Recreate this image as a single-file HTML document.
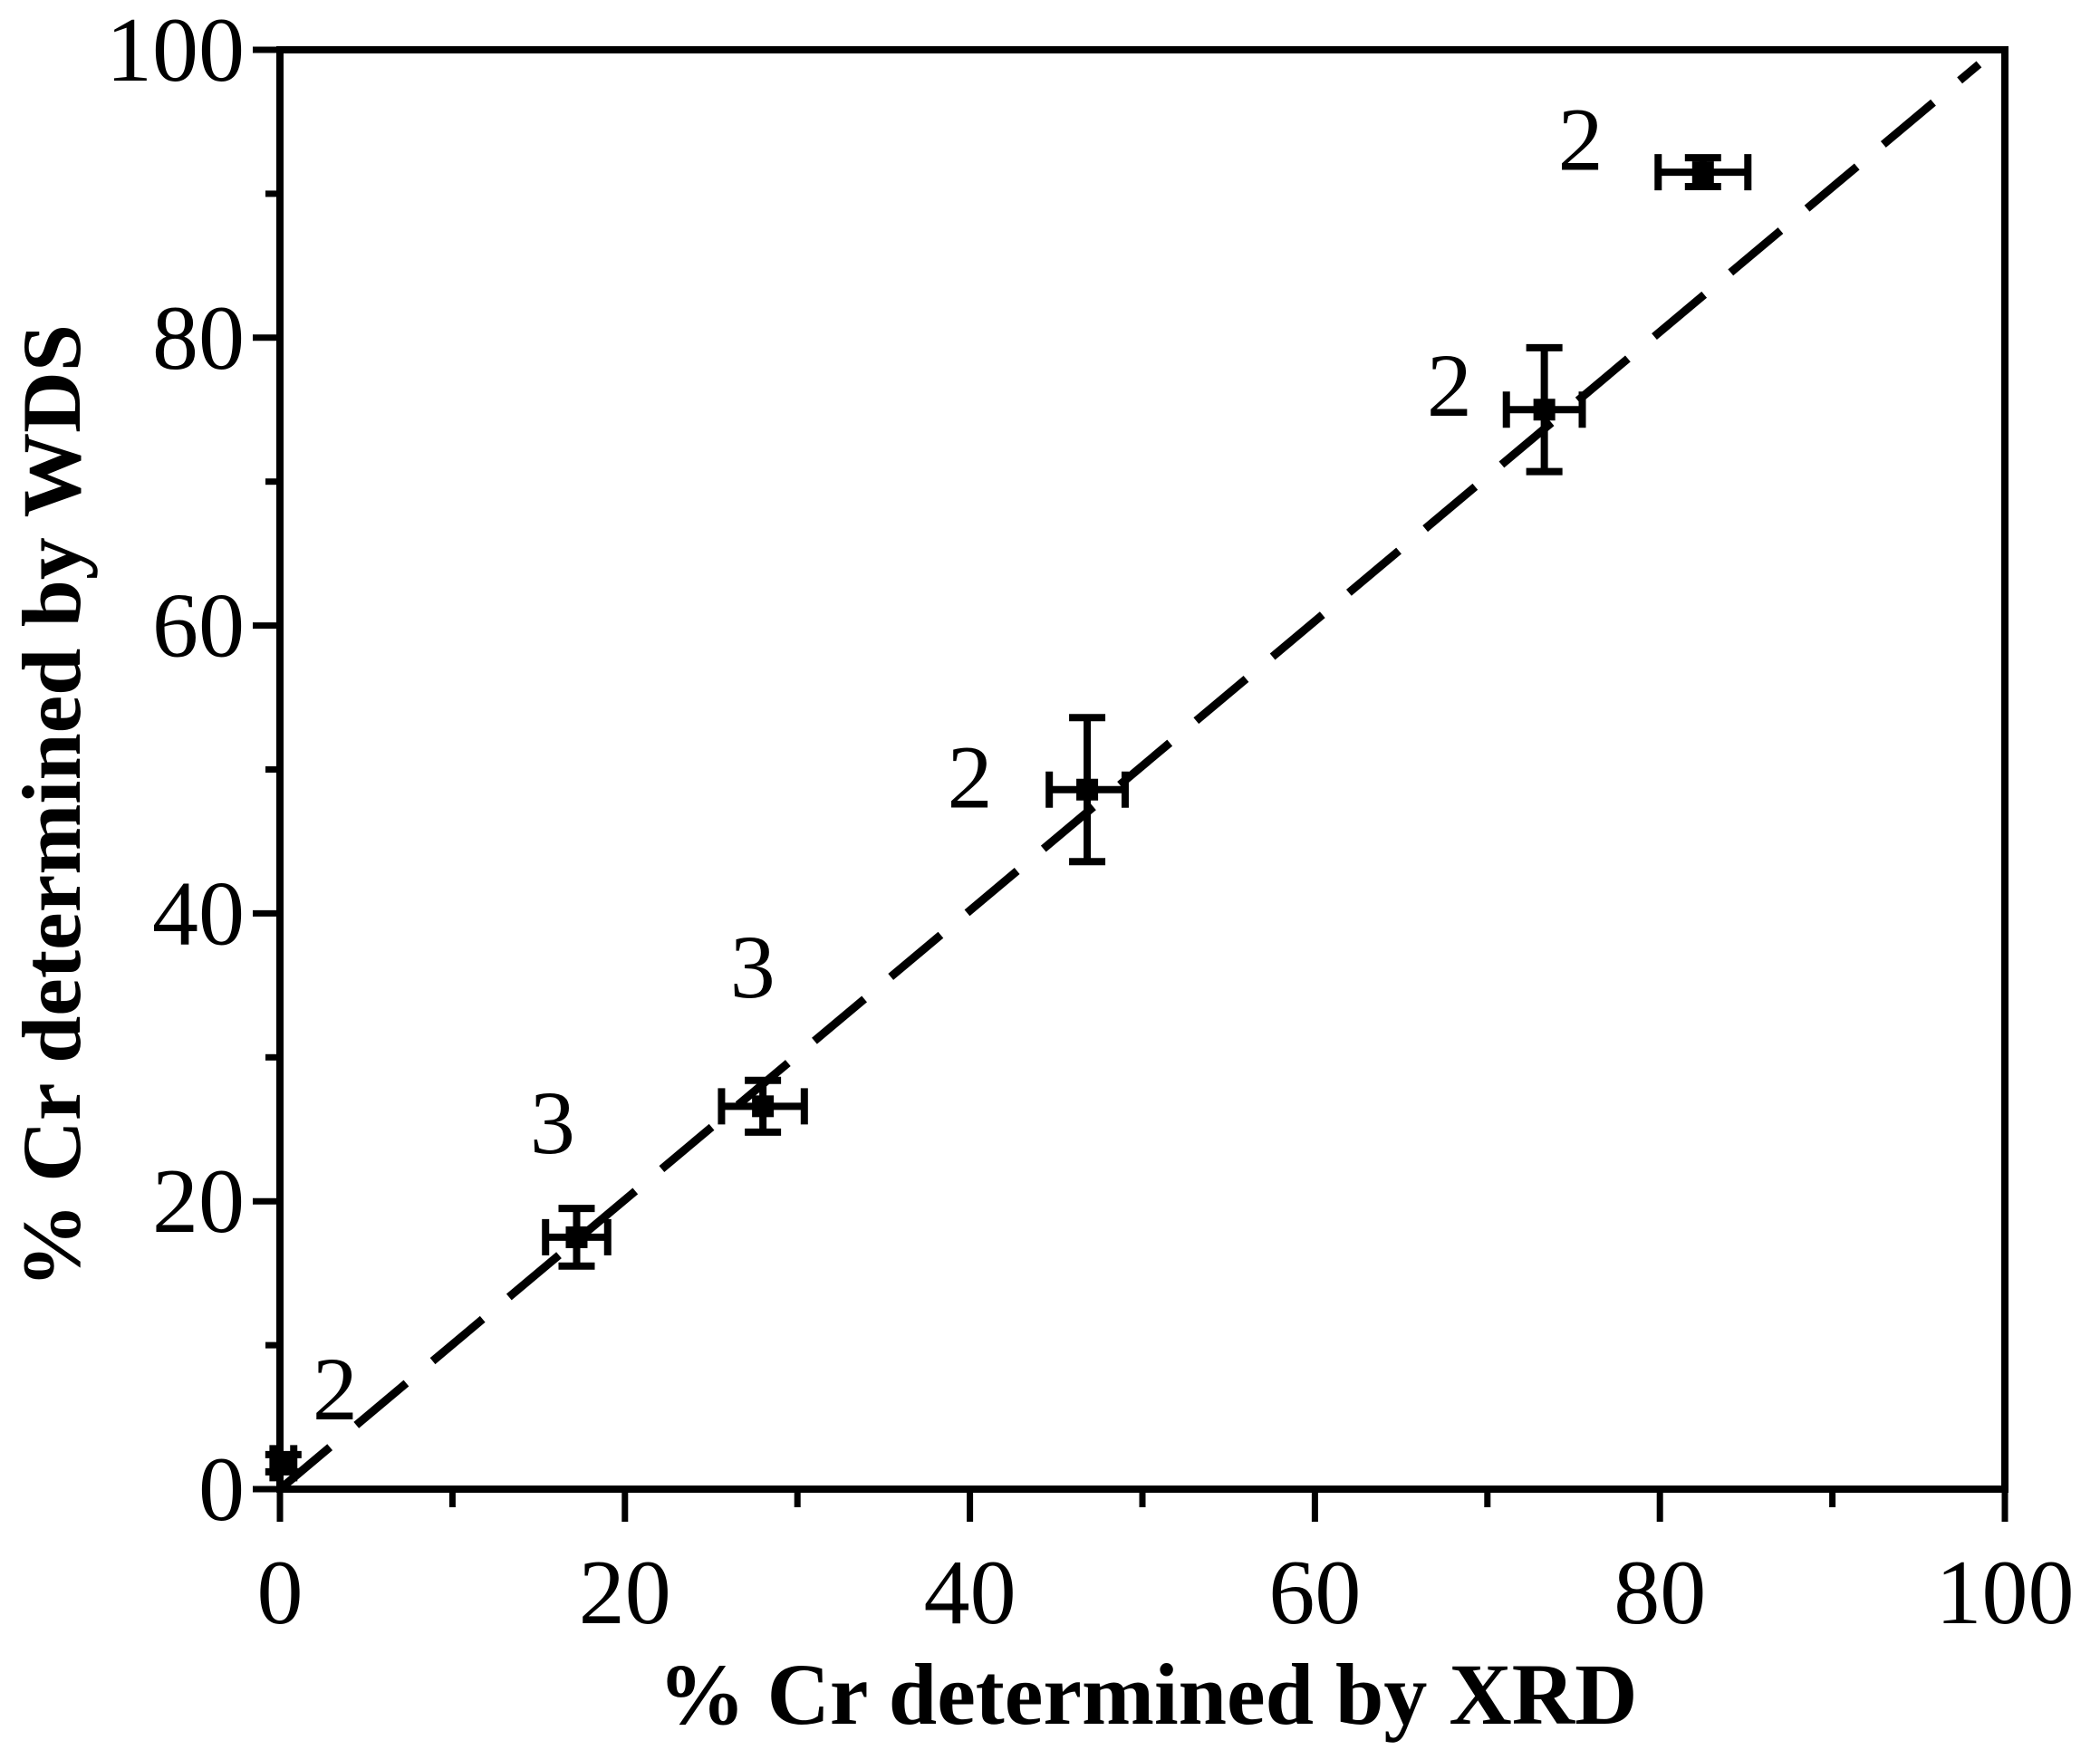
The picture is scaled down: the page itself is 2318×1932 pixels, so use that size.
<!DOCTYPE html>
<html><head><meta charset="utf-8"><style>
html,body{margin:0;padding:0;background:#fff;}
svg{display:block;font-family:"Liberation Serif",serif;}
</style></head><body>
<svg id="chart" width="2318" height="1932" viewBox="0 0 2318 1932" xmlns="http://www.w3.org/2000/svg">
<g id="axes"></g>
<g id="marks"></g>
<text x="1267" y="1903" font-size="96" font-weight="bold" text-anchor="middle">% Cr determined by XRD</text>
<text transform="translate(88,890) rotate(-90)" font-size="92" font-weight="bold" text-anchor="middle" textLength="1064" lengthAdjust="spacingAndGlyphs">% Cr determined by WDS</text>
</svg>
<script>
const xVals = [0.2, 17.2, 28.0, 46.8, 73.3, 82.5];
const yVals = [1.8, 17.5, 26.6, 48.6, 75.0, 91.5];
const xErr = [0.6, 1.8, 2.4, 2.2, 2.2, 2.6];
const yErr = [0.6, 2.0, 1.8, 5.0, 4.3, 1.0];
const labelText = ["2", "3", "3", "2", "2", "2"];
const labelX = [3.2, 15.8, 27.4, 40.0, 67.8, 75.4];
const labelY = [7.0, 25.5, 36.3, 49.5, 76.7, 93.8];
const majorTicks = [0, 20, 40, 60, 80, 100];
const minorTicks = [10, 30, 50, 70, 90];
const fitLine = [[0, 0], [98.5, 99]];

const X0 = 309, X1 = 2213, Y0 = 1644, Y1 = 55;
const sx = v => X0 + (X1 - X0) * v / 100;
const sy = v => Y0 - (Y0 - Y1) * v / 100;
const NS = "http://www.w3.org/2000/svg";
function mk(tag, attrs, parent) {
  const e = document.createElementNS(NS, tag);
  for (const k in attrs) e.setAttribute(k, attrs[k]);
  parent.appendChild(e);
  return e;
}
const axes = document.getElementById('axes');
const marks = document.getElementById('marks');

const frame = mk('rect', {x: X0, y: Y1, width: X1 - X0, height: Y0 - Y1, fill: 'none', stroke: '#000', 'stroke-width': 8}, axes);



majorTicks.forEach(t => {
  const xt = mk('line', {x1: sx(t), x2: sx(t), y1: Y0, y2: Y0 + 36, stroke: '#000', 'stroke-width': 7}, axes);
  
  
  const yt = mk('line', {x1: X0 - 30, x2: X0, y1: sy(t), y2: sy(t), stroke: '#000', 'stroke-width': 7}, axes);
  
  
  const xl = mk('text', {x: sx(t), y: 1792, 'font-size': 102, 'text-anchor': 'middle'}, axes);
  xl.textContent = t;
  
  
  const yl = mk('text', {x: 270, y: sy(t) + 34, 'font-size': 102, 'text-anchor': 'end'}, axes);
  yl.textContent = t;
  
  
});
minorTicks.forEach(t => {
  const xt = mk('line', {x1: sx(t), x2: sx(t), y1: Y0, y2: Y0 + 20, stroke: '#000', 'stroke-width': 7}, axes);
  
  
  const yt = mk('line', {x1: X0 - 16, x2: X0, y1: sy(t), y2: sy(t), stroke: '#000', 'stroke-width': 7}, axes);
  
  
});

const fl = mk('line', {x1: sx(fitLine[0][0]), y1: sy(fitLine[0][1]), x2: sx(fitLine[1][0]), y2: sy(fitLine[1][1]), stroke: '#000', 'stroke-width': 9, 'stroke-dasharray': '72 38'}, marks);



xVals.forEach((xv, i) => {
  const g = mk('g', {}, marks);
  
  
  const cx = sx(xv), cy = sy(yVals[i]);
  const xl = sx(xv - xErr[i]), xr = sx(xv + xErr[i]);
  const yt = sy(yVals[i] + yErr[i]), yb = sy(yVals[i] - yErr[i]);
  const c = 20;
  [[xl, cy, xr, cy], [xl, cy - c, xl, cy + c], [xr, cy - c, xr, cy + c],
   [cx, yt, cx, yb], [cx - c, yt, cx + c, yt], [cx - c, yb, cx + c, yb]].forEach(s => {
    mk('line', {x1: s[0], y1: s[1], x2: s[2], y2: s[3], stroke: '#000', 'stroke-width': 8}, g);
  });
  mk('rect', {x: cx - 12, y: cy - 12, width: 24, height: 24, fill: '#000'}, g);
  const lb = mk('text', {x: sx(labelX[i]), y: sy(labelY[i]) + 34, 'font-size': 100, 'text-anchor': 'middle'}, marks);
  lb.textContent = labelText[i];
  
  
});
</script>
</body></html>
